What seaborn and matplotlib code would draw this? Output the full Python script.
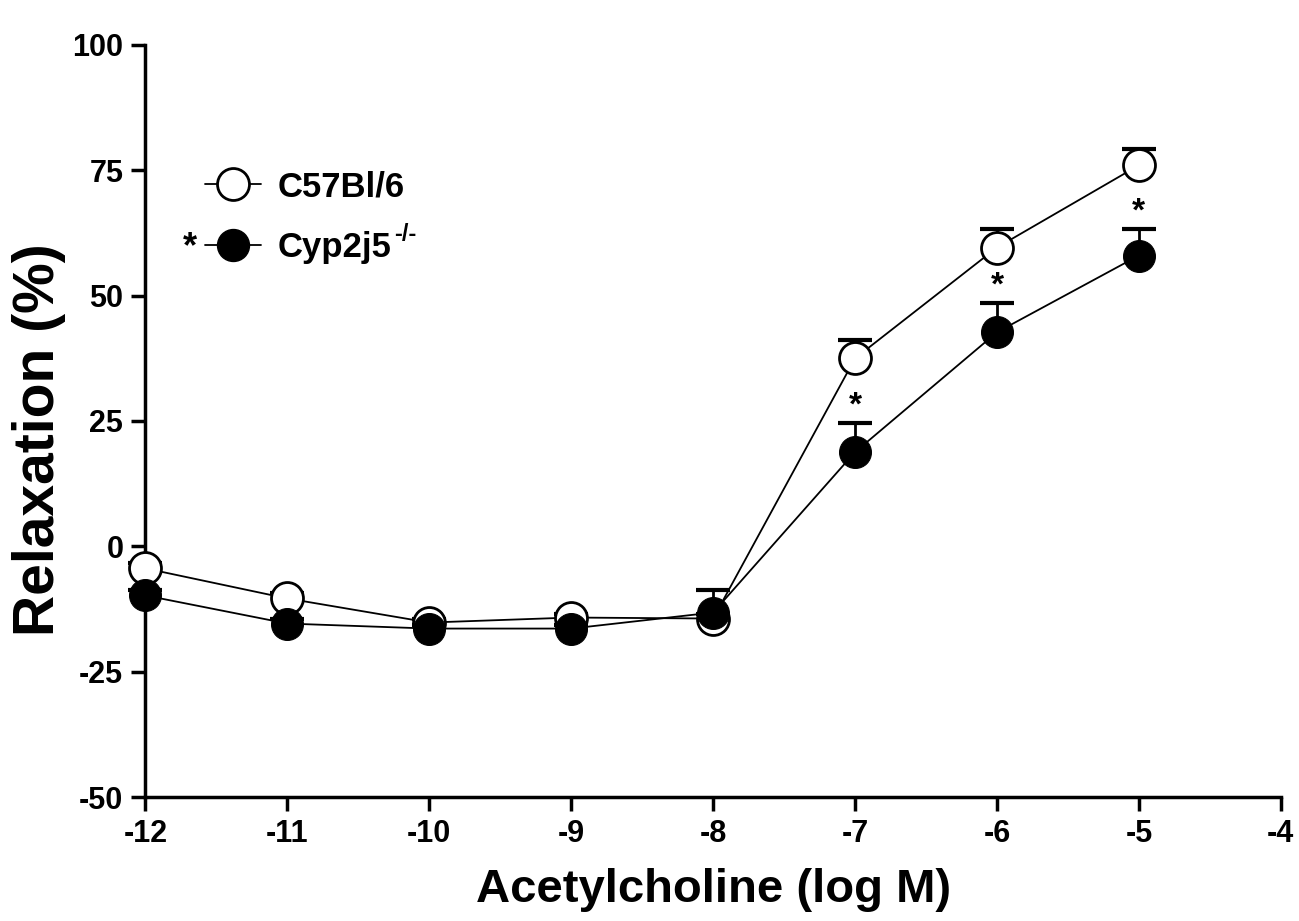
import numpy as np
import pandas as pd
import matplotlib
matplotlib.use('Agg')
import matplotlib.pyplot as plt
import seaborn as sns
from matplotlib.lines import Line2D

# dados
log_ach = [-12, -11, -10, -9, -8, -7, -6, -5]
wt_mean = [-4.4, -10.4, -15.2, -14.2, -14.4, 37.5, 59.6, 76.0]
wt_sem = [1.0, 1.0, 0.8, 0.8, 1.0, 3.6, 3.6, 3.2]
ko_mean = [-9.8, -15.4, -16.4, -16.4, -13.2, 18.8, 42.7, 58.0]
ko_sem = [1.0, 1.0, 0.8, 0.8, 4.4, 5.7, 5.8, 5.2]
signif_x = [-7, -6, -5]
groups = ['C57Bl/6', 'Cyp2j5']

df = pd.DataFrame({
    'x': log_ach * 2,
    'y': wt_mean + ko_mean,
    'grupo': [groups[0]] * 8 + [groups[1]] * 8,
})

sns.set_style('ticks', {'axes.edgecolor': 'black', 'text.color': 'black',
                        'axes.labelcolor': 'black', 'xtick.color': 'black',
                        'ytick.color': 'black'})
plt.rcParams['font.family'] = ['Liberation Sans', 'DejaVu Sans']
plt.rcParams['font.weight'] = 'bold'
plt.rcParams['axes.unicode_minus'] = False

fig = plt.figure(figsize=(12.99, 9.21), dpi=100)
ax = fig.add_axes([0.112, 0.1346, 0.874, 0.8166])

# barras de erro (só para cima): haste + tampa
for mean, sem in [(wt_mean, wt_sem), (ko_mean, ko_sem)]:
    top = np.array(mean) + np.array(sem)
    ax.errorbar(log_ach, mean, yerr=[np.zeros(8), sem], fmt='none',
                ecolor='black', elinewidth=2, capsize=0, zorder=2, clip_on=False)
    ax.plot(log_ach, top, linestyle='none', marker='_', markersize=24,
            markeredgewidth=3, color='black', zorder=2, clip_on=False)

sns.lineplot(data=df, x='x', y='y', hue='grupo', style='grupo',
             palette=['black', 'black'], markers=['o', 'o'], dashes=False,
             linewidth=1.3, markersize=23, legend=False, ax=ax, zorder=3)

lines = ax.get_lines()[-2:]
lines[0].set_markerfacecolor('white')
lines[0].set_markeredgecolor('black')
lines[0].set_markeredgewidth(2)
lines[1].set_markerfacecolor('black')
lines[1].set_markeredgecolor('black')
for ln in lines:
    ln.set_clip_on(False)
    ln.set_zorder(4)

# asteriscos
for xi in signif_x:
    i = log_ach.index(xi)
    ax.text(xi, ko_mean[i] + ko_sem[i] + 3.5, '*', ha='center', va='center',
            fontsize=24, fontweight='bold')

ax.set_xlim(-12, -4)
ax.set_ylim(-50, 100)
ax.set_xticks(range(-12, -3))
ax.set_yticks([-50, -25, 0, 25, 50, 75, 100])
ax.tick_params(axis='both', direction='out', length=10, width=2.5, labelsize=22, pad=6)
for lab in ax.get_xticklabels() + ax.get_yticklabels():
    lab.set_fontweight('bold')
for s in ['left', 'bottom']:
    ax.spines[s].set_linewidth(2.5)
sns.despine(ax=ax)

ax.set_xlabel('Acetylcholine (log M)', fontsize=34, fontweight='bold')
ax.xaxis.set_label_coords(0.5, -0.094)
ax.set_ylabel('Relaxation (%)', fontsize=41, fontweight='bold')
ax.yaxis.set_label_coords(-0.07, 0.475)

handles = [
    Line2D([], [], color='black', lw=1.3, marker='o', markersize=23,
           markerfacecolor='white', markeredgewidth=2),
    Line2D([], [], color='black', lw=1.3, marker='o', markersize=23,
           markerfacecolor='black'),
]
leg = ax.legend(handles, groups, loc='upper left', bbox_to_anchor=(0.025, 0.875),
                frameon=False, fontsize=25, handlelength=1.6, labelspacing=0.8,
                handletextpad=0.5)
for t in leg.get_texts():
    t.set_fontweight('bold')

# sobrescrito -/- e asterisco da legenda
fig.canvas.draw()
bb = leg.get_texts()[1].get_window_extent().transformed(fig.transFigure.inverted())
fig.text(bb.x1 + 0.002, bb.y1 - 0.004, '-/-', fontsize=17, fontweight='bold',
         ha='left', va='center')
fig.text(0.146, (bb.y0 + bb.y1) / 2, '*', fontsize=26, fontweight='bold',
         ha='center', va='center')

plt.savefig('out.png', dpi=100)
